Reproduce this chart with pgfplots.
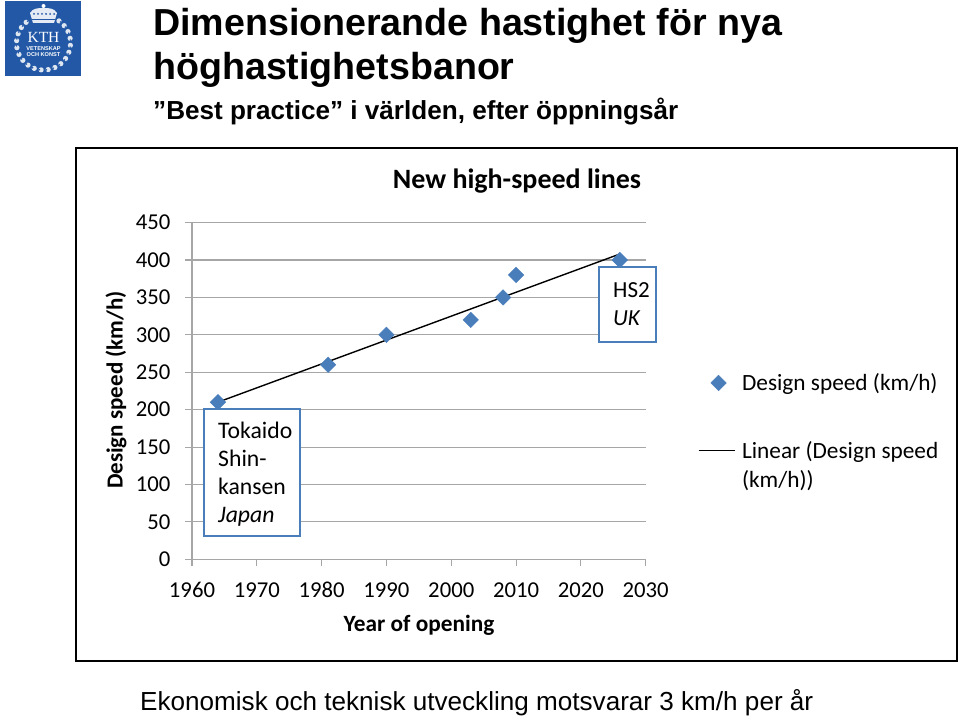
\documentclass[border=0pt]{standalone}
\usepackage{pgfplots}
\pgfplotsset{compat=1.18}
\usepackage{fontspec}
\setmainfont{Carlito}
\newfontfamily\arial{Liberation Sans}
\newfontfamily\tnr{Liberation Serif}
\definecolor{kth}{HTML}{2258A5}
\definecolor{mk}{HTML}{4A7EBB}
\definecolor{gr}{HTML}{A6A6A6}
\newcommand{\fs}[1]{\fontsize{#1}{#1}\selectfont}
\begin{document}
\begin{tikzpicture}[x=1pt,y=-1pt]
\path[use as bounding box] (0,0) rectangle (960,717);
% logo
\fill[kth] (5,1) rectangle (81,76);
\foreach \a in {-55,-40,...,235}{
  \fill[white!85!kth] ({43.5+27*cos(\a)},{43+27*sin(\a)}) circle (2.6);
  \fill[kth] ({43.5+27*cos(\a+4)},{43+27*sin(\a+4)}) circle (0.9);
}
\fill[white!88!kth] (33,23) -- (30,13) to[out=60,in=180] (43.5,8) to[out=0,in=120] (57,13) -- (54,23) -- cycle;
\fill[white] (43.5,6) circle (2);
\foreach \x in {34,38,42,46,50,54}{\fill[kth] (\x,14) circle (1);}
\draw[kth,line width=0.7] (32,19) -- (55,19);
\node[text=white,font=\tnr\fs{15.5}] at (43.5,37) {KTH};
\node[text=white,font=\arial\bfseries\fs{5.6}] at (43.5,48.5) {VETENSKAP};
\node[text=white,font=\arial\bfseries\fs{5.6}] at (43.5,55) {OCH KONST};
% titles
\node[anchor=base west,inner sep=0,text=black,font=\arial\bfseries\fs{37.6}] at (153,35.5) {Dimensionerande hastighet för nya};
\node[anchor=base west,inner sep=0,text=black,font=\arial\bfseries\fs{37.6}] at (153,79) {höghastighetsbanor};
\node[anchor=base west,inner sep=0,text=black,font=\arial\bfseries\fs{26.1}] at (153,119) {”Best practice” i världen, efter öppningsår};
\node[anchor=base west,inner sep=0,text=black,font=\arial\fs{26.1}] at (140,710) {Ekonomisk och teknisk utveckling motsvarar 3 km/h per år};
% frame
\draw[black,line width=2,fill=white] (76,148) rectangle (957,661);
% chart
\begin{scope}[x=1cm,y=1cm]
\begin{axis}[
  at={(192pt,-559.3pt)},anchor=south west,
  scale only axis,width=453.7pt,height=336.7pt,
  xmin=1960,xmax=2030,ymin=0,ymax=450,
  xtick={1960,1970,...,2030},ytick={0,50,...,450},
  axis x line*=bottom,axis y line*=left,
  xtick pos=bottom,ytick pos=left,
  axis line style={gr,line width=1.3,-},
  xtick style={gr,line width=1.1},ytick style={gr,line width=1.1},
  tick align=outside,major tick length=7pt,
  ymajorgrids,grid style={gr,line width=1.1},
  xticklabel style={/pgf/number format/1000 sep={},text height=15pt,text depth=0pt,yshift=-13pt},
  yticklabel style={xshift=-11pt},
  /pgf/number format/assume math mode=true,
  tick label style={font=\fs{22.7},text=black},
  legend style={at={(1.115,0.558)},anchor=north west,draw=none,fill=none,
    font=\fs{23.3},cells={align=left,anchor=west,text depth=0pt},row sep=45pt,inner sep=0pt},
  legend cell align=left,clip=false,
]
\addplot[only marks,mark=square*,mark size=5.5pt,mark options={fill=mk,draw=mk,rotate=45},
  legend image code/.code={\draw[mk,fill=mk] (20pt,0) plot[mark=square*,mark size=5.5pt,mark options={fill=mk,draw=mk,rotate=45}] coordinates {(20pt,0)};}]
 coordinates {(1964,210)(1981,260)(1990,300)(2003,320)(2008,350)(2010,380)(2026,400)};
\addlegendentry{\hspace{5pt}Design speed (km/h)}
\addplot[black,line width=1.4,
  legend image code/.code={\draw[black,line width=1] (0,0) -- (36pt,0);}]
 coordinates {(1964,210)(2026,408)};
\addlegendentry{\hspace{5pt}\begin{tabular}[t]{@{}l@{}}Linear (Design speed\\[5pt](km/h))\end{tabular}}
\end{axis}
\end{scope}
% chart text
\node[font=\fs{28}\bfseries,text=black] at (517,181) {New high-speed lines};
\node[font=\fs{23.3}\bfseries,text=black] at (419,625) {Year of opening};
\node[font=\fs{23}\bfseries,text=black,rotate=90] at (116,390) {Design speed (km/h)};
% boxes
\draw[mk,line width=2,fill=white] (203.5,408.5) rectangle (299.5,536);
\draw[mk,line width=2,fill=white] (598.5,267) rectangle (655.5,342);
\begin{scope}[every node/.style={anchor=base west,inner sep=0,font=\fs{23.7},text=black}]
\node at (218,438) {Tokaido};
\node at (218,466) {Shin-};
\node at (218,494) {kansen};
\node at (218,522) {\itshape Japan};
\node[font=\fs{23}] at (613,297) {HS2};
\node[font=\fs{23}] at (613,325) {\itshape UK};
\end{scope}
\end{tikzpicture}
\end{document}
